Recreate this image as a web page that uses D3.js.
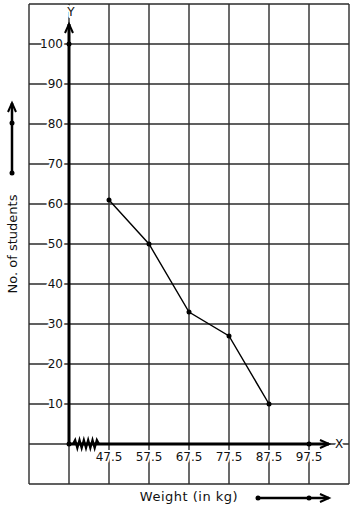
<!DOCTYPE html>
<html>
<head>
<meta charset="utf-8">
<script src="https://cdn.jsdelivr.net/npm/d3@7"></script>
<style>
  body { margin: 0; background: #fff; }
  svg text { font-family: "DejaVu Sans", sans-serif; fill: #111; }
  .grid-line { stroke: #2b2b2b; stroke-width: 1.4; }
  .halo { stroke: #fff; stroke-width: 4; paint-order: stroke; stroke-linejoin: round; }
</style>
</head>
<body>
<div id="chart"></div>
<script>
// weight (class mark) vs number of students
var weights = [47.5, 57.5, 67.5, 77.5, 87.5];
var students = [61, 50, 33, 27, 10];
var xTickLabels = ["47.5", "57.5", "67.5", "77.5", "87.5", "97.5"];
var xTickValues = [47.5, 57.5, 67.5, 77.5, 87.5, 97.5];
var yTickValues = [10, 20, 30, 40, 50, 60, 70, 80, 90, 100];

var w = 354, h = 510;

var svg = d3.select("#chart").append("svg")
	.attr("width", w)
	.attr("height", h);

// graph paper: one cell = 10 kg by 10 students
var x = d3.scaleLinear().domain([27.5, 107.5]).range([29, 349]);
var y = d3.scaleLinear().domain([-10, 110]).range([484, 4]);

var xGrid = d3.range(27.5, 108, 10);
var yGrid = d3.range(-10, 111, 10);

svg.selectAll(".vgrid")
	.data(xGrid).enter()
	.append("line")
	.attr("class", "grid-line")
	.attr("x1", function(d) { return x(d); })
	.attr("x2", function(d) { return x(d); })
	.attr("y1", y(110))
	.attr("y2", y(-10));

svg.selectAll(".hgrid")
	.data(yGrid).enter()
	.append("line")
	.attr("class", "grid-line")
	.attr("x1", x(27.5))
	.attr("x2", x(107.5))
	.attr("y1", function(d) { return y(d); })
	.attr("y2", function(d) { return y(d); });

var x0 = x(37.5), y0 = y(0);

// tick labels with white halo so grid line breaks round them
svg.selectAll(".ylab")
	.data(yTickValues).enter()
	.append("text")
	.attr("class", "halo")
	.attr("x", x0 - 6)
	.attr("y", function(d) { return y(d); })
	.attr("dy", "0.36em")
	.attr("text-anchor", "end")
	.style("font-size", "12px")
	.text(function(d) { return d; });

svg.selectAll(".xlab")
	.data(xTickValues).enter()
	.append("text")
	.attr("class", "halo")
	.attr("x", function(d) { return x(d); })
	.attr("y", y0 + 17)
	.attr("text-anchor", "middle")
	.style("font-size", "12px")
	.text(function(d, i) { return xTickLabels[i]; });

// axes
svg.append("line")
	.attr("x1", x0).attr("x2", x0)
	.attr("y1", y0).attr("y2", y(105))
	.attr("stroke", "#000").attr("stroke-width", 3);
svg.append("path")
	.attr("d", "M" + (x0 - 4) + "," + (y(105) + 9) + "L" + x0 + "," + y(105) + "L" + (x0 + 4) + "," + (y(105) + 9))
	.attr("fill", "none").attr("stroke", "#000").attr("stroke-width", 2);

svg.append("line")
	.attr("x1", x0).attr("x2", x(102.5))
	.attr("y1", y0).attr("y2", y0)
	.attr("stroke", "#000").attr("stroke-width", 3);
svg.append("path")
	.attr("d", "M" + (x(102.5) - 9) + "," + (y0 - 4) + "L" + x(102.5) + "," + y0 + "L" + (x(102.5) - 9) + "," + (y0 + 4))
	.attr("fill", "none").attr("stroke", "#000").attr("stroke-width", 2);

// kink on x axis (scale does not start at 0)
var zz = [];
var zx0 = x(38.5), zx1 = x(45);
var nz = 12;
for (var i = 0; i <= nz; i++) {
	zz.push([zx0 + (zx1 - zx0) * i / nz, i === 0 || i === nz ? y0 : (i % 2 ? y0 - 4 : y0 + 4)]);
}
svg.append("path")
	.attr("d", d3.line()(zz))
	.attr("fill", "none").attr("stroke", "#000").attr("stroke-width", 2.2);

svg.selectAll(".axis-dot")
	.data([[37.5, 0], [37.5, 100], [97.5, 0]]).enter()
	.append("circle")
	.attr("cx", function(d) { return x(d[0]); })
	.attr("cy", function(d) { return y(d[1]); })
	.attr("r", 2.5)
	.attr("fill", "#000");

svg.append("text")
	.attr("class", "halo")
	.attr("x", x0 + 2).attr("y", 16)
	.attr("text-anchor", "middle")
	.style("font-size", "12px")
	.text("Y");

svg.append("text")
	.attr("class", "halo")
	.attr("x", x(102.5) + 10).attr("y", y0)
	.attr("dy", "0.36em")
	.attr("text-anchor", "middle")
	.style("font-size", "12px")
	.text("X");

// frequency polygon
var pts = weights.map(function(d, i) { return [x(d), y(students[i])]; });
svg.append("path")
	.attr("d", d3.line()(pts))
	.attr("fill", "none").attr("stroke", "#000").attr("stroke-width", 1.4);

svg.selectAll(".pt")
	.data(pts).enter()
	.append("circle")
	.attr("cx", function(d) { return d[0]; })
	.attr("cy", function(d) { return d[1]; })
	.attr("r", 2.5)
	.attr("fill", "#000");

// axis titles
svg.append("text")
	.attr("transform", "translate(17,244) rotate(-90)")
	.attr("text-anchor", "middle")
	.style("font-size", "13px")
	.text("No. of students");

svg.append("text")
	.attr("x", 189).attr("y", 501)
	.attr("text-anchor", "middle")
	.style("font-size", "13px")
	.style("letter-spacing", "0.5px")
	.text("Weight (in kg)");

// scale markers outside the grid
var lx = 12;
svg.append("line")
	.attr("x1", lx).attr("x2", lx)
	.attr("y1", 173).attr("y2", 103)
	.attr("stroke", "#000").attr("stroke-width", 2.5);
svg.append("path")
	.attr("d", "M" + (lx - 4) + ",112L" + lx + ",103L" + (lx + 4) + ",112")
	.attr("fill", "none").attr("stroke", "#000").attr("stroke-width", 2);
svg.selectAll(".ldot")
	.data([123, 173]).enter()
	.append("circle")
	.attr("cx", lx).attr("cy", function(d) { return d; })
	.attr("r", 2.5).attr("fill", "#000");

var by = 498;
svg.append("line")
	.attr("x1", 258).attr("x2", 329)
	.attr("y1", by).attr("y2", by)
	.attr("stroke", "#000").attr("stroke-width", 2.5);
svg.append("path")
	.attr("d", "M320," + (by - 4) + "L329," + by + "L320," + (by + 4))
	.attr("fill", "none").attr("stroke", "#000").attr("stroke-width", 2);
svg.selectAll(".bdot")
	.data([258, 309]).enter()
	.append("circle")
	.attr("cx", function(d) { return d; }).attr("cy", by)
	.attr("r", 2.5).attr("fill", "#000");
</script>
</body>
</html>
